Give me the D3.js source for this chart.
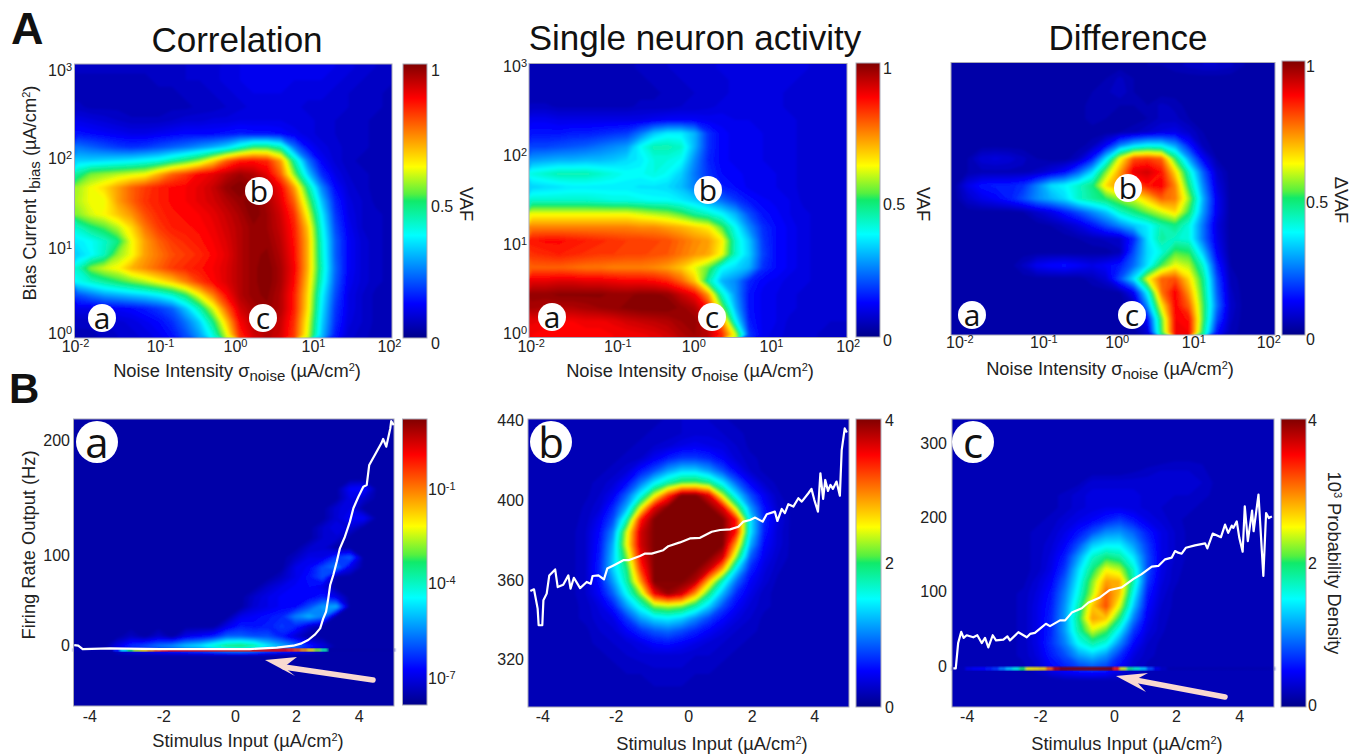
<!DOCTYPE html>
<html>
<head>
<meta charset="utf-8">
<script src="https://d3js.org/d3.v7.min.js"></script>
<style>
  html, body { margin: 0; padding: 0; background: #fff; }
  text { font-family: "Liberation Sans", Arial, sans-serif; fill: #222; }
</style>
</head>
<body>
<svg id="fig" width="1362" height="754"></svg>
<script>
const correlationGrid = [
  [6,6,6,6,6,6,6,6,7,7,8,9,10,11,11,11,11,11,11,10,9,8,7,6],
  [5,5,5,5,5,5,6,6,7,7,8,9,10,11,11,11,10,10,10,9,8,7,6,6],
  [5,4,4,4,4,5,5,5,6,6,7,8,9,10,10,10,9,9,9,8,7,6,6,5],
  [6,5,5,5,4,4,4,5,5,6,6,7,8,9,9,9,9,8,8,8,7,6,6,5],
  [10,9,8,7,6,6,6,7,8,8,9,9,10,10,10,10,9,9,8,7,6,6,5,5],
  [14,13,12,11,10,10,11,12,13,13,13,14,15,14,14,13,11,9,8,7,6,6,5,5],
  [24,22,20,18,17,18,20,22,24,27,30,34,42,50,50,44,24,13,9,8,6,6,5,5],
  [33,33,34,35,36,38,40,45,50,56,66,78,85,86,84,72,45,24,12,8,6,5,5,5],
  [46,54,56,58,60,62,70,78,82,88,90,94,97,95,90,78,55,33,17,10,7,6,5,5],
  [57,62,66,72,78,82,85,87,88,90,93,98,100,98,95,88,72,47,26,13,8,6,5,5],
  [58,62,62,72,78,83,85,87,88,90,92,95,98,100,96,90,78,55,32,16,9,7,5,5],
  [55,60,63,68,73,80,84,86,87,88,90,93,96,100,97,92,83,62,37,18,10,7,6,5],
  [42,48,52,58,66,76,82,85,86,87,89,92,95,98,97,93,85,68,40,20,11,7,6,5],
  [36,38,42,48,62,72,78,82,84,86,88,91,95,98,98,94,86,70,42,22,12,8,6,5],
  [33,37,43,56,62,72,76,80,82,84,87,90,95,98,99,95,87,70,43,22,12,8,6,5],
  [42,55,60,63,70,74,78,82,84,86,88,91,95,98,100,96,88,70,44,23,12,8,6,5],
  [38,42,46,50,54,58,63,68,75,82,87,91,95,98,100,96,87,68,42,22,11,8,6,5],
  [20,24,28,30,32,34,37,42,50,63,75,87,95,98,99,95,85,66,38,20,10,7,5,5],
  [10,10,11,12,13,15,18,22,32,44,60,78,92,96,98,95,85,65,36,18,10,7,5,5],
  [6,6,7,8,9,11,13,17,24,33,48,68,88,94,96,93,83,62,34,17,9,7,5,5],
  [5,5,6,7,8,9,11,14,20,28,40,60,84,92,95,92,82,60,32,15,8,6,5,5]
];
const singleGrid = [
  [5,5,5,5,5,5,5,5,6,6,7,7,8,8,9,9,9,9,9,9,9,8,8,8],
  [5,5,5,5,5,5,5,5,5,6,6,7,7,8,8,9,9,9,9,9,8,8,8,7],
  [4,4,4,4,4,4,4,5,5,5,6,6,7,8,8,9,9,9,9,8,8,8,7,7],
  [6,6,5,5,5,5,5,5,6,6,6,7,7,8,9,9,9,9,9,8,8,8,7,7],
  [11,11,10,10,10,10,10,10,10,11,12,12,12,11,11,10,10,9,9,9,8,8,7,7],
  [14,14,14,15,15,16,17,18,24,32,36,36,30,17,12,11,10,10,9,9,8,8,7,7],
  [19,19,20,21,22,24,26,28,38,44,44,42,30,17,12,11,10,10,9,9,8,8,7,7],
  [28,29,30,30,31,31,32,34,36,40,40,38,26,16,12,11,10,10,9,9,8,8,7,7],
  [40,42,44,44,44,42,40,38,38,40,38,33,24,17,13,12,11,10,10,9,8,8,7,7],
  [33,34,35,36,36,36,36,36,35,35,34,31,25,20,15,13,11,10,10,9,8,8,7,7],
  [42,42,42,42,42,41,40,40,39,38,38,36,33,28,23,18,14,12,11,10,8,8,7,7],
  [62,62,62,62,62,62,62,62,60,58,56,52,46,42,37,30,20,14,12,10,9,8,7,7],
  [75,75,75,75,75,75,75,75,74,74,72,70,67,64,52,38,26,17,13,11,9,8,7,7],
  [86,87,87,86,85,84,83,82,82,81,80,77,74,72,64,42,32,18,13,11,9,8,7,7],
  [83,84,85,84,83,82,82,81,81,80,79,76,73,71,62,42,33,19,13,11,9,8,7,7],
  [78,78,78,77,76,76,75,75,75,74,72,68,61,53,38,34,30,17,13,11,9,8,7,7],
  [90,90,91,91,90,90,89,88,88,87,84,78,68,45,30,26,16,12,11,9,9,8,7,7],
  [98,98,99,99,99,99,98,98,99,99,98,93,88,72,42,27,14,11,10,9,8,8,7,7],
  [96,95,95,95,96,97,98,99,100,100,100,98,95,85,55,30,14,11,10,9,8,8,7,7],
  [90,89,88,88,89,89,90,92,93,94,95,97,98,92,75,38,15,11,10,8,8,7,7,7],
  [88,87,87,87,87,87,88,88,89,90,92,95,97,94,84,60,18,11,9,8,7,7,6,6]
];
const differenceGrid = [
  [3,3,3,3,3,3,3,3,3,3,3,3,3,3,4,4,5,6,7,7,6,4,3,3],
  [3,3,3,3,3,3,3,3,3,3,3,4,6,4,3,3,3,3,3,3,3,3,3,3],
  [3,3,3,3,3,3,3,3,3,3,4,5,7,4,3,3,3,3,3,3,3,3,3,3],
  [3,3,3,3,3,3,3,3,3,3,5,5,4,4,4,6,5,3,3,3,3,3,3,3],
  [3,3,3,3,3,3,3,3,3,3,5,4,3,3,4,6,6,4,3,3,3,3,3,3],
  [3,3,3,3,3,3,3,3,3,3,3,3,4,5,7,9,10,7,4,3,3,3,3,3],
  [3,3,3,3,3,3,3,3,3,3,5,12,25,33,37,36,28,15,5,3,3,3,3,3],
  [3,4,8,9,8,6,4,3,3,6,15,35,62,80,82,78,50,28,12,4,3,3,3,3],
  [3,4,5,5,5,5,6,9,13,22,34,55,72,90,92,86,66,42,22,7,3,3,3,3],
  [3,10,14,15,15,17,25,34,37,42,48,66,74,78,86,88,74,48,26,9,3,3,3,3],
  [3,7,10,12,15,20,26,30,34,42,46,50,56,60,68,78,75,56,30,11,3,3,3,3],
  [3,3,3,3,3,4,7,10,15,20,26,32,42,48,54,60,66,50,28,11,3,3,3,3],
  [3,3,3,3,3,3,3,4,6,9,14,20,26,32,36,44,48,40,24,9,3,3,3,3],
  [3,3,3,3,3,3,3,3,3,4,5,6,7,16,35,46,42,40,24,10,3,3,3,3],
  [3,3,3,3,3,3,3,3,3,3,3,3,5,20,34,40,52,50,32,12,3,3,3,3],
  [3,3,3,3,3,6,11,13,14,12,10,12,15,23,35,52,62,58,42,16,4,3,3,3],
  [3,3,3,3,3,3,3,3,3,3,5,8,20,35,62,78,80,66,48,20,5,3,3,3],
  [3,3,3,3,3,3,3,3,3,3,3,3,4,12,38,76,88,72,50,22,6,3,3,3],
  [3,3,3,3,3,3,3,3,3,3,3,3,3,5,27,64,88,78,52,24,7,3,3,3],
  [3,3,3,3,3,3,3,3,3,3,3,3,3,3,13,52,88,86,52,20,6,3,3,3],
  [3,3,3,3,3,3,3,3,3,3,3,3,3,3,8,50,88,88,48,14,5,3,3,3]
];
const densityGridA = [
  [3,3,3,3,3,3,3,3,3,3,3,3,3,3,3,3,3,3,3,3,3,3,3,3],
  [3,3,3,3,3,3,3,3,3,3,3,3,3,3,3,3,3,3,3,3,3,3,3,3],
  [3,3,3,3,3,3,3,3,3,3,3,3,3,3,3,3,3,3,3,3,3,3,3,3],
  [3,3,3,3,3,3,3,3,3,3,3,3,3,3,3,3,3,3,3,3,3,3,3,3],
  [3,3,3,3,3,3,3,3,3,3,3,3,3,3,3,3,3,3,3,3,3,3,3,3],
  [3,3,3,3,3,3,3,3,3,3,3,3,3,3,3,3,3,3,3,3,3,3,3,3],
  [3,3,3,3,3,3,3,3,3,3,3,3,3,3,3,3,3,3,3,3,3,3,3,3],
  [3,3,3,3,3,3,3,3,3,3,3,3,3,3,3,3,3,3,3,3,12,14,3,3],
  [3,3,3,3,3,3,3,3,3,3,3,3,3,3,3,3,3,3,3,3,10,7,3,3],
  [3,3,3,3,3,3,3,3,3,3,3,3,3,3,3,3,3,3,3,8,10,3,3,3],
  [3,3,3,3,3,3,3,3,3,3,3,3,3,3,3,3,3,3,3,8,12,12,3,3],
  [3,3,3,3,3,3,3,3,3,3,3,3,3,3,3,3,3,3,7,10,8,3,3,3],
  [3,3,3,3,3,3,3,3,3,3,3,3,3,3,3,3,3,3,7,8,3,3,3,3],
  [3,3,3,3,3,3,3,3,3,3,3,3,3,3,3,3,3,7,8,3,3,3,3,3],
  [3,3,3,3,3,3,3,3,3,3,3,3,3,3,3,3,6,10,10,18,22,3,3,3],
  [3,3,3,3,3,3,3,3,3,3,3,3,3,3,3,3,10,12,20,25,10,3,3,3],
  [3,3,3,3,3,3,3,3,3,3,3,3,3,3,3,6,10,14,20,3,3,3,3,3],
  [3,3,3,3,3,3,3,3,3,3,3,3,3,3,7,10,12,13,10,3,3,3,3,3],
  [3,3,3,3,3,3,3,3,3,3,3,3,3,7,10,12,12,12,15,10,3,3,3,3],
  [3,3,3,3,3,3,3,3,3,3,3,3,3,8,10,12,13,20,28,30,3,3,3,3],
  [3,3,3,3,3,3,3,3,3,3,3,3,10,12,14,16,25,30,25,3,3,3,3,3],
  [3,3,3,3,3,3,3,3,3,3,3,10,15,14,15,18,16,8,3,3,3,3,3,3],
  [3,3,3,3,6,3,7,3,10,12,15,22,22,20,20,15,8,3,3,3,3,3,3,3],
  [3,3,3,10,17,20,24,27,32,35,42,48,50,46,36,30,24,16,9,3,3,3,3,3],
  [3,3,3,3,3,3,3,3,3,3,3,3,3,3,3,3,3,3,3,3,3,3,3,3],
  [3,3,3,3,3,3,3,3,3,3,3,3,3,3,3,3,3,3,3,3,3,3,3,3],
  [3,3,3,3,3,3,3,3,3,3,3,3,3,3,3,3,3,3,3,3,3,3,3,3],
  [3,3,3,3,3,3,3,3,3,3,3,3,3,3,3,3,3,3,3,3,3,3,3,3],
  [3,3,3,3,3,3,3,3,3,3,3,3,3,3,3,3,3,3,3,3,3,3,3,3],
  [3,3,3,3,3,3,3,3,3,3,3,3,3,3,3,3,3,3,3,3,3,3,3,3]
];
const densityGridB = [
  [4,4,4,4,4,4,4,4,5,5,6,7,7,7,6,5,5,4,4,4,4,4,4,4],
  [4,4,4,4,4,4,4,4,5,6,6,7,8,8,7,6,5,4,4,4,4,4,4,4],
  [4,4,4,4,4,4,4,5,6,7,8,10,11,10,9,7,5,4,4,4,4,4,4,4],
  [4,4,4,4,4,4,5,6,7,11,15,18,18,16,12,8,6,5,4,4,4,4,4,4],
  [4,4,4,4,4,5,6,8,14,20,28,33,33,28,20,12,7,5,4,4,4,4,4,4],
  [4,4,4,4,5,6,8,13,24,36,45,52,53,48,36,22,12,7,5,4,4,4,4,4],
  [4,4,4,4,5,7,11,22,38,60,82,100,100,90,58,35,20,11,6,4,4,4,4,4],
  [4,4,4,4,6,8,16,30,60,90,100,100,100,100,90,55,28,14,7,5,4,4,4,4],
  [4,4,4,5,6,11,20,44,85,100,100,100,100,100,100,85,36,16,9,5,4,4,4,4],
  [4,4,4,5,7,13,26,60,92,100,100,100,100,100,100,85,36,15,8,5,4,4,4,4],
  [4,4,4,5,7,14,30,62,92,100,100,100,100,100,100,70,30,13,8,5,4,4,4,4],
  [4,4,4,5,7,15,32,55,88,100,100,100,100,100,92,55,22,11,7,5,4,4,4,4],
  [4,4,4,5,7,16,33,48,82,100,100,100,100,93,70,35,16,9,6,4,4,4,4,4],
  [4,4,4,5,7,14,28,45,72,100,100,100,95,68,42,23,12,8,5,4,4,4,4,4],
  [4,4,4,5,7,12,22,38,56,88,98,92,72,48,30,16,10,6,5,4,4,4,4,4],
  [4,4,4,5,6,9,15,28,40,55,58,55,45,33,20,12,8,6,5,4,4,4,4,4],
  [4,4,4,5,6,8,10,18,28,34,36,33,26,19,13,9,7,5,4,4,4,4,4,4],
  [4,4,4,4,5,7,8,12,17,21,23,20,16,12,9,7,6,5,4,4,4,4,4,4],
  [4,4,4,4,5,6,7,8,10,13,14,12,10,8,7,6,5,4,4,4,4,4,4,4],
  [4,4,4,4,4,5,6,7,8,8,8,8,7,7,6,5,5,4,4,4,4,4,4,4],
  [4,4,4,4,4,5,5,6,6,7,7,7,6,6,5,5,4,4,4,4,4,4,4,4],
  [4,4,4,4,4,4,5,5,5,6,6,6,5,5,5,4,4,4,4,4,4,4,4,4],
  [4,4,4,4,4,4,4,5,5,5,5,5,5,5,4,4,4,4,4,4,4,4,4,4],
  [4,4,4,4,4,4,4,4,4,4,4,4,4,4,4,4,4,4,4,4,4,4,4,4]
];
const densityGridC = [
  [4,4,4,4,4,4,4,4,4,4,4,4,4,4,4,4,4,4,4,4,4,4,4,4],
  [4,4,4,4,4,4,4,4,4,4,4,4,4,4,4,4,4,4,4,4,4,4,4,4],
  [4,4,4,4,4,4,4,4,4,4,4,4,4,4,4,4,4,4,4,4,4,4,4,4],
  [4,4,4,4,4,4,4,4,4,4,4,4,4,4,4,4,5,5,5,4,4,4,4,4],
  [4,4,4,4,4,4,4,4,4,4,4,4,4,5,6,7,7,7,6,4,4,4,4,4],
  [4,4,4,4,4,4,4,4,4,5,8,8,8,8,8,8,8,8,7,5,4,4,4,4],
  [4,4,4,4,4,4,4,5,6,8,9,9,9,9,8,8,7,7,6,5,4,4,4,4],
  [4,4,4,4,4,4,4,5,6,8,9,10,10,9,8,7,6,6,5,4,4,4,4,4],
  [4,4,4,4,4,4,5,6,8,10,12,15,18,14,10,8,6,5,5,4,4,4,4,4],
  [4,4,4,4,4,5,6,7,10,14,20,26,27,22,15,10,7,5,4,4,4,4,4,4],
  [4,4,4,4,4,5,6,8,12,20,32,36,36,28,18,10,7,5,4,4,4,4,4,4],
  [4,4,4,4,4,5,6,9,15,28,42,48,45,35,20,10,7,5,4,4,4,4,4,4],
  [4,4,4,4,4,5,6,10,18,34,48,62,58,42,20,10,6,5,4,4,4,4,4,4],
  [4,4,4,4,5,5,8,12,22,37,55,72,70,44,18,9,6,4,4,4,4,4,4,4],
  [4,4,4,4,5,6,9,14,25,40,58,78,68,38,15,8,5,4,4,4,4,4,4,4],
  [4,4,4,4,5,6,10,15,27,44,68,80,60,32,13,7,5,4,4,4,4,4,4,4],
  [4,4,4,4,5,6,10,16,28,48,72,68,48,25,11,6,5,4,4,4,4,4,4,4],
  [4,4,4,4,5,6,10,16,28,45,60,52,36,18,9,6,4,4,4,4,4,4,4,4],
  [4,4,4,4,5,6,10,17,25,38,45,40,26,13,7,5,4,4,4,4,4,4,4,4],
  [4,4,4,4,5,6,9,15,20,28,32,27,17,9,6,5,4,4,4,4,4,4,4,4],
  [4,4,4,4,4,5,7,12,15,18,20,18,12,7,5,4,4,4,4,4,4,4,4,4],
  [4,4,4,4,4,4,4,4,5,5,5,5,5,5,4,4,4,4,4,4,4,4,4,4],
  [4,4,4,4,4,4,4,4,4,4,4,4,4,4,4,4,4,4,4,4,4,4,4,4],
  [4,4,4,4,4,4,4,4,4,4,4,4,4,4,4,4,4,4,4,4,4,4,4,4]
];
// thin row of silent trials at the bottom of panels a and c
const silentStripA = [4,4,4,4,4,4,15,35,50,58,65,72,80,85,90,90,90,90,90,90,90,90,90,90,90,90,90,90,90,90,90,90,85,80,72,65,55,45,3,3,3,3,3,3,3,3,3,3];
const silentStripC = [4,5,10,12,13,15,18,25,32,40,50,62,64,66,78,95,100,100,100,100,100,100,100,100,85,60,48,42,32,20,10,6,4,4,4,4,4,4,4,4,4,4,4,4,4,4,4,4];

// mean firing rate curves
const stimulusA = [-4.41,-4.3,-4.18,-3.44,-2.09,0.49,1.37,1.91,2.18,2.39,2.61,2.77,2.87,2.96,3.03,3.09,3.19,3.3,3.4,3.56,3.72,3.83,3.99,4.15,4.26,4.34,4.52,4.73,4.79,4.89,5.02,5.05,5.13];
const rateA = [0.7,0,-3.7,-2.9,-3.7,-3.7,-2.2,0,2.6,6.3,12.5,19.1,30.1,37.5,52.2,66.9,77.9,92.6,105.8,115.9,129,140.6,150.7,159.4,160.9,178.3,187,197.1,200.9,194.2,210.1,216.5,213];
const stimulusB = [-4.36,-4.25,-4.14,-4.11,-4,-3.97,-3.88,-3.81,-3.65,-3.58,-3.43,-3.29,-3.23,-3.14,-2.97,-2.79,-2.68,-2.63,-2.47,-2.32,-2.23,-2.06,-1.79,-1.65,-1.33,-1.19,-1.01,-0.69,-0.55,-0.23,0.05,0.37,0.74,1,1.32,1.58,1.74,1.95,2.11,2.35,2.48,2.74,2.82,2.96,3.06,3.17,3.33,3.49,3.6,3.81,3.91,4,4.12,4.2,4.29,4.36,4.45,4.53,4.61,4.73,4.84,4.9,5,5.07];
const rateB = [354.4,355.3,345.5,337.1,337.1,349.7,353.1,362.3,365.3,356.4,357.6,362.3,355.6,361.1,355.9,359,358.1,362,362.3,360.3,365.7,367.3,369.9,369.9,372,373.2,373.2,374.9,376.9,378.8,380.8,381.1,384.1,385,385.3,386.6,389.2,390,391.2,389.2,392.9,394.2,389.5,395.5,393.4,397.9,396.7,400.9,399.2,403.4,405.6,400.1,394.2,413.5,400.6,410.1,404.6,407.6,405.6,409.3,402.2,425.2,436.1,434.1];
const stimulusC = [-4.39,-4.32,-4.25,-4.16,-4.09,-4,-3.82,-3.71,-3.59,-3.5,-3.41,-3.29,-3.2,-3,-2.89,-2.82,-2.59,-2.36,-2.27,-2.14,-1.95,-1.84,-1.73,-1.46,-1.32,-1.14,-0.87,-0.69,-0.38,-0.11,0.25,0.62,0.89,1.22,1.43,1.65,1.86,1.97,2.07,2.18,2.31,2.6,2.92,2.99,3.16,3.42,3.55,3.65,3.76,3.81,3.92,4,4.11,4.18,4.28,4.42,4.47,4.63,4.79,4.88,4.97,5.07];
const rateC = [-3.2,-3.2,30.6,45.5,37.4,41,38.3,41,30.6,37.4,24.8,41,34.2,35.1,39.6,34.2,45,38.3,42.8,44.1,51.8,56.3,53.2,60.8,60.8,71.2,77,84.7,91.4,101.4,105,116.2,123,133.3,134.2,143.2,145.5,154.5,152.3,150.9,159,162.2,164.9,158.1,178.4,173.4,190.5,179.3,189.2,186,195,172.5,153.6,215.3,168,209.5,181.5,231.1,120.7,206.3,199.5,201.8];

const noiseTicks = [1e-2, 1e-1, 1e0, 1e1, 1e2];
const biasTicks = [1e0, 1e1, 1e2, 1e3];
const stimulusTicks = [-4, -2, 0, 2, 4];

const svg = d3.select("#fig");
const defs = svg.append("defs");

// jet like the colour bars in the figure
const jet = d3.scaleLinear()
    .domain([0, 12.5, 37.5, 50, 52.5, 62.5, 87.5, 100])
    .range(["#00008a", "#0000ff", "#00ffff", "#10ea6a", "#55f040", "#ffff00", "#ff0000", "#800000"])
    .clamp(true);

const barGradient = defs.append("linearGradient")
    .attr("id", "jetBar")
    .attr("x1", 0).attr("y1", 1).attr("x2", 0).attr("y2", 0);
barGradient.selectAll("stop").data(jet.domain()).enter().append("stop")
    .attr("offset", d => d + "%")
    .attr("stop-color", d => jet(d));

defs.append("filter").attr("id", "soften")
    .attr("x", "-5%").attr("y", "-5%").attr("width", "110%").attr("height", "110%")
    .append("feGaussianBlur").attr("stdDeviation", 1.2);

const levels = d3.range(1, 100.5, 1.5);
let clipCount = 0;

function drawHeat(grid, box) {
    const ny = grid.length, nx = grid[0].length;
    // run a little past the frame so the softening doesn't fade at the edges
    const pad = 4;
    const sx = d3.scaleLinear().domain([0, nx]).range([box.x0 - pad, box.x1 + pad]);
    const sy = d3.scaleLinear().domain([0, ny]).range([box.y0 - pad, box.y1 + pad]);
    const path = d3.geoPath(d3.geoTransform({
        point(x, y) { this.stream.point(sx(x), sy(y)); }
    }));
    const contours = d3.contours().size([nx, ny]).thresholds(levels)(grid.flat());

    const clipId = "clip" + (clipCount++);
    defs.append("clipPath").attr("id", clipId).append("rect")
        .attr("x", box.x0).attr("y", box.y0)
        .attr("width", box.x1 - box.x0).attr("height", box.y1 - box.y0);

    const g = svg.append("g").attr("clip-path", `url(#${clipId})`)
        .append("g").attr("filter", "url(#soften)");
    g.append("rect")
        .attr("x", box.x0 - pad).attr("y", box.y0 - pad)
        .attr("width", box.x1 - box.x0 + 2 * pad).attr("height", box.y1 - box.y0 + 2 * pad)
        .attr("fill", jet(0));
    g.selectAll("path").data(contours).enter().append("path")
        .attr("d", path)
        .attr("fill", d => jet(d.value + 0.75));
}

function drawFrame(box) {
    svg.append("rect")
        .attr("x", box.x0).attr("y", box.y0)
        .attr("width", box.x1 - box.x0).attr("height", box.y1 - box.y0)
        .attr("fill", "none").attr("stroke", "#a9a9b8").attr("stroke-width", 1);
}

function drawColorbar(box) {
    svg.append("rect")
        .attr("x", box.x0).attr("y", box.y0)
        .attr("width", box.x1 - box.x0).attr("height", box.y1 - box.y0)
        .attr("fill", "url(#jetBar)");
    drawFrame(box);
}

// swap plain tick text for base + superscript
function powerLabels(sel, size) {
    sel.selectAll(".tick text").each(function (d) {
        const t = d3.select(this).text("");
        t.append("tspan").text("10");
        t.append("tspan").attr("dy", -5).style("font-size", size + "px").text(Math.round(Math.log10(d)));
    });
}

function axisStyle(g) {
    g.select(".domain").remove();
    g.selectAll(".tick line").remove();
    g.selectAll("text").style("font-size", "16px").attr("fill", "#222");
}

function noiseAxis(xs, yText) {
    const x = d3.scaleLog().domain(noiseTicks).range(xs);
    const g = svg.append("g").attr("transform", `translate(0,${yText - 7})`)
        .call(d3.axisBottom(x).tickValues(noiseTicks).tickSize(0).tickPadding(0));
    axisStyle(g);
    powerLabels(g, 11);
}

function biasAxis(ys, xText) {
    const y = d3.scaleLog().domain(biasTicks).range(ys);
    const g = svg.append("g").attr("transform", `translate(${xText},0)`)
        .call(d3.axisLeft(y).tickValues(biasTicks).tickSize(0).tickPadding(0));
    axisStyle(g);
    powerLabels(g, 11);
}

function stimulusScale(xs, x0, x1) {
    return d3.scaleLinear().domain([-4.43, ...stimulusTicks, 5.14]).range([x0, ...xs, x1]);
}

function stimulusAxis(x, yText) {
    const g = svg.append("g").attr("transform", `translate(0,${yText - 7})`)
        .call(d3.axisBottom(x).tickValues(stimulusTicks).tickSize(0).tickPadding(0).tickFormat(d => String(d)));
    axisStyle(g);
}

function rateAxis(y, ticks, xText) {
    const g = svg.append("g").attr("transform", `translate(${xText},0)`)
        .call(d3.axisLeft(y).tickValues(ticks).tickSize(0).tickPadding(0));
    axisStyle(g);
}

function barAxis(scale, ticks, xText) {
    const g = svg.append("g").attr("transform", `translate(${xText},0)`)
        .call(d3.axisRight(scale).tickValues(ticks).tickSize(0).tickPadding(0).tickFormat(d => d));
    axisStyle(g);
    return g;
}

function noiseTitle(cx, y) {
    const t = svg.append("text").attr("x", cx).attr("y", y).attr("text-anchor", "middle").style("font-size", "18.3px");
    t.append("tspan").text("Noise Intensity σ");
    t.append("tspan").attr("dy", 4).style("font-size", "15px").text("noise");
    t.append("tspan").attr("dy", -4).text(" (µA/cm");
    t.append("tspan").attr("dy", -6).style("font-size", "11px").text("2");
    t.append("tspan").attr("dy", 6).text(")");
}

function stimulusTitle(cx, y) {
    const t = svg.append("text").attr("x", cx).attr("y", y).attr("text-anchor", "middle").style("font-size", "18.3px");
    t.append("tspan").text("Stimulus Input (µA/cm");
    t.append("tspan").attr("dy", -6).style("font-size", "11px").text("2");
    t.append("tspan").attr("dy", 6).text(")");
}

function sideLabel(text, x, y) {
    svg.append("text")
        .attr("transform", `translate(${x},${y}) rotate(90)`)
        .attr("text-anchor", "middle")
        .style("font-size", "18.3px")
        .text(text);
}

function badge(letter, cx, cy, r, size) {
    svg.append("circle").attr("cx", cx).attr("cy", cy).attr("r", r).attr("fill", "#fff");
    svg.append("text").attr("x", cx).attr("y", cy + size * 0.37)
        .attr("text-anchor", "middle")
        .style("font-family", "'Open Sans', sans-serif")
        .style("font-size", size + "px")
        .style("fill", "#111")
        .text(letter);
}

function drawRate(xs, ys, x, y) {
    const line = d3.line().x(d => x(d)).y((d, i) => y(ys[i]));
    svg.append("path")
        .attr("d", line(xs))
        .attr("fill", "none")
        .attr("stroke", "#fff")
        .attr("stroke-width", 2.2)
        .attr("stroke-linejoin", "round");
}

function drawStrip(values, x0, x1, yTop, yBot) {
    const band = d3.scaleBand().domain(d3.range(values.length)).range([x0, x1]);
    svg.append("g").attr("filter", "url(#soften)")
        .selectAll("rect").data(values).enter().append("rect")
        .attr("x", (d, i) => band(i))
        .attr("width", band.bandwidth() + 0.5)
        .attr("y", yTop)
        .attr("height", yBot - yTop)
        .attr("fill", d => jet(d));
}

function arrow(from, neck, headA, tip, headB) {
    svg.append("line")
        .attr("x1", from[0]).attr("y1", from[1]).attr("x2", neck[0]).attr("y2", neck[1])
        .attr("stroke", "#f9d9d0").attr("stroke-width", 5.5).attr("stroke-linecap", "round");
    svg.append("polygon")
        .attr("points", [headA, tip, headB, neck].map(p => p.join(",")).join(" "))
        .attr("fill", "#f9d9d0");
}

function title(text, cx, y) {
    svg.append("text").attr("x", cx).attr("y", y).attr("text-anchor", "middle")
        .style("font-size", "35px").style("fill", "#111").text(text);
}

// panel letters
svg.append("text").attr("x", 11).attr("y", 44).style("font-size", "45px").style("font-weight", "bold").style("fill", "#111").text("A");
svg.append("text").attr("x", 9).attr("y", 403).style("font-size", "42px").style("font-weight", "bold").style("fill", "#111").text("B");

// --- row A ---
const boxCorr = { x0: 74.5, x1: 392, y0: 64, y1: 338 };
const boxSingle = { x0: 529, x1: 847, y0: 63.5, y1: 337.5 };
const boxDiff = { x0: 951, x1: 1275, y0: 62.5, y1: 335 };

title("Correlation", 237, 52);
title("Single neuron activity", 695, 50);
title("Difference", 1128, 50);

drawHeat(correlationGrid, boxCorr);
drawHeat(singleGrid, boxSingle);
drawHeat(differenceGrid, boxDiff);
[boxCorr, boxSingle, boxDiff].forEach(drawFrame);

drawColorbar({ x0: 403, x1: 427, y0: 64, y1: 338 });
drawColorbar({ x0: 856, x1: 880, y0: 63, y1: 337 });
drawColorbar({ x0: 1282, x1: 1305, y0: 61, y1: 335 });

noiseAxis([75, 160, 235, 313, 389], 348);
noiseAxis([530.7, 617.3, 693.3, 771, 847.7], 348);
noiseAxis([959.3, 1043.3, 1116.7, 1193.3, 1268.3], 344);
biasAxis([333, 248, 158, 70], 72);
biasAxis([333, 244, 155, 66.7], 527);

const vafTicks = [0, 0.5, 1];
barAxis(d3.scaleLinear().domain([0, 1]).range([343, 70]), vafTicks, 431);
barAxis(d3.scaleLinear().domain([0, 1]).range([340, 68]), vafTicks, 883);
barAxis(d3.scaleLinear().domain([0, 1]).range([339, 66]), vafTicks, 1306);

sideLabel("VAF", 460, 204);
sideLabel("VAF", 917, 204);
sideLabel("ΔVAF", 1335, 200);

noiseTitle(237, 376.5);
noiseTitle(690, 376.5);
noiseTitle(1110, 375);

const biasTitle = svg.append("text")
    .attr("transform", "translate(36,193) rotate(-90)")
    .attr("text-anchor", "middle").style("font-size", "18.3px");
biasTitle.append("tspan").text("Bias Current I");
biasTitle.append("tspan").attr("dy", 4).style("font-size", "15px").text("bias");
biasTitle.append("tspan").attr("dy", -4).text(" (µA/cm");
biasTitle.append("tspan").attr("dy", -6).style("font-size", "11px").text("2");
biasTitle.append("tspan").attr("dy", 6).text(")");

badge("a", 102, 318, 14, 30);
badge("b", 259, 191, 14, 30);
badge("c", 263, 318, 14, 30);
badge("a", 552, 317, 14, 30);
badge("b", 708, 190, 14, 30);
badge("c", 712, 317, 14, 30);
badge("a", 972, 315, 14, 30);
badge("b", 1128, 188, 14, 30);
badge("c", 1132, 315, 14, 30);

// --- row B ---
const boxA = { x0: 73.5, x1: 394, y0: 419, y1: 706 };
const boxB = { x0: 528, x1: 849, y0: 419, y1: 707 };
const boxC = { x0: 952, x1: 1274, y0: 419, y1: 707 };

drawHeat(densityGridA, boxA);
drawHeat(densityGridB, boxB);
drawHeat(densityGridC, boxC);

const xA = stimulusScale([89.3, 163.3, 235, 296, 358.7], boxA.x0, boxA.x1);
const xB = stimulusScale([542.3, 615.7, 688.3, 751.7, 814.3], boxB.x0, boxB.x1);
const xC = stimulusScale([966.7, 1040, 1114, 1176, 1239.3], boxC.x0, boxC.x1);
const yA = d3.scaleLinear().domain([0, 100, 200]).range([645.7, 555, 440]);
const yB = d3.scaleLinear().domain([320, 360, 400, 440]).range([659, 580, 500, 420.7]);
const yC = d3.scaleLinear().domain([0, 100, 200, 300]).range([666, 591, 517.7, 443.7]);

drawStrip(silentStripA, boxA.x0, boxA.x1, yA(-2.9), yA(-6.6));
drawStrip(silentStripC, boxC.x0, boxC.x1, yC(-1.4), yC(-5.9));

[boxA, boxB, boxC].forEach(drawFrame);

drawRate(stimulusA, rateA, xA, yA);
drawRate(stimulusB, rateB, xB, yB);
drawRate(stimulusC, rateC, xC, yC);

arrow([373, 680], [284, 667], [297, 657], [265, 660], [295, 676]);
arrow([1225, 697], [1135, 680], [1148, 673], [1116, 676], [1146, 692]);

drawColorbar({ x0: 402.5, x1: 427, y0: 419, y1: 705 });
drawColorbar({ x0: 856, x1: 881, y0: 419, y1: 707 });
drawColorbar({ x0: 1281, x1: 1306, y0: 419, y1: 707 });

stimulusAxis(xA, 718);
stimulusAxis(xB, 718);
stimulusAxis(xC, 718);
rateAxis(yA, [0, 100, 200], 70);
rateAxis(yB, [320, 360, 400, 440], 524);
rateAxis(yC, [0, 100, 200, 300], 947);

const logBar = barAxis(d3.scaleLog().domain([1e-7, 1e-4, 1e-1]).range([678, 583, 489]), [1e-7, 1e-4, 1e-1], 428);
powerLabels(logBar, 11);
barAxis(d3.scaleLinear().domain([0, 2, 4]).range([707, 563, 420]), [0, 2, 4], 885);
barAxis(d3.scaleLinear().domain([0, 2, 4]).range([705, 563, 420]), [0, 2, 4], 1308);

stimulusTitle(248, 747);
stimulusTitle(712, 750);
stimulusTitle(1127, 750);

svg.append("text")
    .attr("transform", "translate(35,545) rotate(-90)")
    .attr("text-anchor", "middle").style("font-size", "18.3px")
    .text("Firing Rate Output (Hz)");

const densityTitle = svg.append("text")
    .attr("transform", "translate(1328,563) rotate(90)")
    .attr("text-anchor", "middle").style("font-size", "18.3px");
densityTitle.append("tspan").text("10");
densityTitle.append("tspan").attr("dy", -6).style("font-size", "11px").text("3");
densityTitle.append("tspan").attr("dy", 6).text(" Probability Density");

badge("a", 97, 442, 21, 42);
badge("b", 551, 442, 21, 42);
badge("c", 973, 442, 21, 42);
</script>
</body>
</html>
